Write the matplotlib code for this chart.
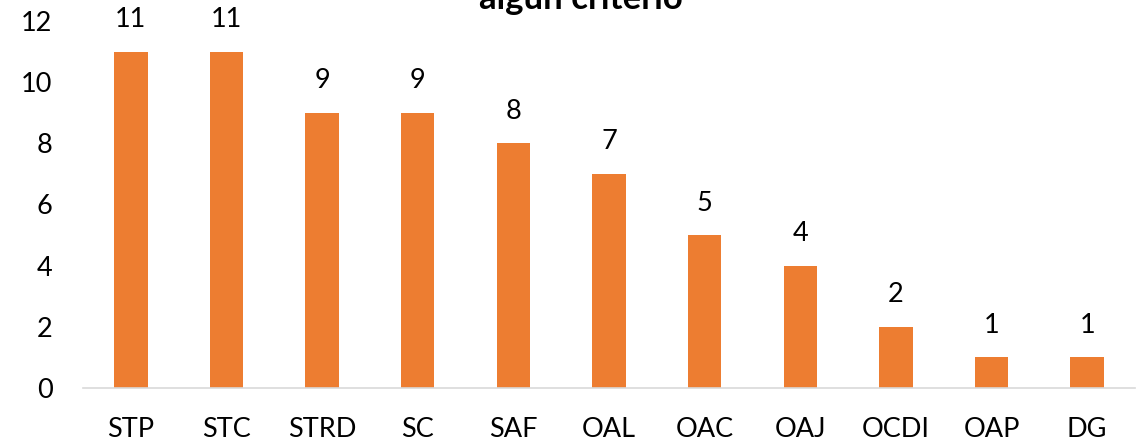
import matplotlib
matplotlib.use("Agg")
import matplotlib.pyplot as plt

categories = ["STP", "STC", "STRD", "SC", "SAF", "OAL", "OAC", "OAJ", "OCDI", "OAP", "DG"]
values = [11, 11, 9, 9, 8, 7, 5, 4, 2, 1, 1]
yticks = [0, 2, 4, 6, 8, 10, 12]
title = "algún criterio"

plt.rcParams['font.family'] = ['Lato', 'DejaVu Sans']

fig = plt.figure(figsize=(11.42, 4.43), dpi=100)
ax = fig.add_axes([83/1142, 55/443, 1052/1142, 367/443])

x = list(range(len(categories)))
bars = ax.bar(x, values, width=0.35, color="#ED7D31", zorder=2)
for xi, v in zip(x, values):
    ax.annotate(str(v), (xi, v), xytext=(0, 14), textcoords="offset points",
                ha="center", va="bottom", fontsize=19.5, color="#000000")

ax.set_xlim(-0.5, len(categories) - 0.5)
ax.set_ylim(0, 12)
ax.set_yticks(yticks)
ax.set_yticklabels([str(t) for t in yticks], fontsize=19.5)
ax.set_xticks(x)
ax.set_xticklabels(categories, fontsize=19.5)
ax.tick_params(axis="y", length=0, pad=22)
ax.tick_params(axis="x", length=0, pad=21)
for s in ["top", "right", "left"]:
    ax.spines[s].set_visible(False)
ax.spines["bottom"].set_color("#D9D9D9")
ax.spines["bottom"].set_linewidth(1.2)

fig.text(581/1142, 1 - 9/443, title, ha="center", va="baseline",
         fontsize=25, fontweight="bold", color="#000000")

fig.savefig("out.png", dpi=100)
